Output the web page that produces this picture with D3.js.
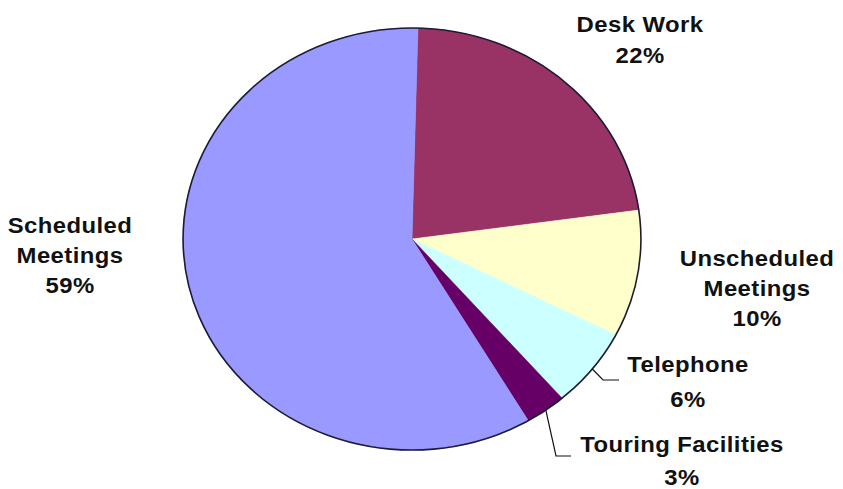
<!DOCTYPE html>
<html>
<head>
<meta charset="utf-8">
<script src="https://cdn.jsdelivr.net/npm/d3@7"></script>
<style>
  html, body { margin: 0; padding: 0; background: #fff; }
  text { font-family: "Liberation Sans", Arial, sans-serif; font-weight: bold; fill: #111; letter-spacing: 0.4px; }
</style>
</head>
<body>
<div id="chart"></div>
<script>
// slices, clockwise from 12 o'clock
const categories = ["Desk Work", "Unscheduled Meetings", "Telephone", "Touring Facilities", "Scheduled Meetings"];
const shares = [22.4, 9.7, 6.1, 2.9, 58.9];
const colors = ["#993366", "#ffffcc", "#ccffff", "#660066", "#9999ff"];
// label lines as shown
const labelLines = [["Desk Work"], ["Unscheduled", "Meetings"], ["Telephone"], ["Touring Facilities"], ["Scheduled", "Meetings"]];

(function(){
    const width = 843, height = 489;
    const cx = 412, cy = 239;
    const radius = 211;
    const stretch = 1.085;   // pie is drawn a bit wider than tall

    const svg = d3.select("#chart")
        .append('svg')
            .attr('width', width)
            .attr('height', height);

    const data = categories.map((c, i) => ({ name: c, value: shares[i], color: colors[i], lines: labelLines[i] }));

    const pie = d3.pie()
        .sort(null)
        .value(d => d.value)
        .startAngle(0.026)
        .endAngle(0.026 + 2 * Math.PI);

    const arcs = pie(data);
    const arc = d3.arc().innerRadius(0).outerRadius(radius);

    const g = svg.append('g')
        .attr('transform', `translate(${cx}, ${cy}) scale(${stretch}, 1)`);

    g.selectAll('path')
        .data(arcs)
        .enter()
        .append('path')
            .attr('d', arc)
            .attr('fill', d => d.data.color)
            .attr('stroke', d => d.data.color)
            .attr('stroke-width', 0.5);

    g.append('circle')
        .attr('r', radius)
        .attr('fill', 'none')
        .attr('stroke', '#1c1c38')
        .attr('stroke-width', 1.6)
        .attr('vector-effect', 'non-scaling-stroke');

    // label placement (page coordinates): centre x, first baseline, line step
    const labelPos = {
        "Desk Work": { x: 640, y: 32, step: 31, leader: null },
        "Unscheduled Meetings": { x: 757, y: 266, step: 30, leader: null },
        "Telephone": { x: 688, y: 372, step: 35, leader: { bend: [603, 380], end: [619, 380] } },
        "Touring Facilities": { x: 682, y: 452, step: 33, leader: { bend: [556, 456], end: [571, 456] } },
        "Scheduled Meetings": { x: 70, y: 233, step: 30, leader: null }
    };

    const edge = d3.arc().innerRadius(radius).outerRadius(radius);

    arcs.forEach(a => {
        const p = labelPos[a.data.name];
        const pct = Math.round(a.data.value) + '%';
        const lines = a.data.lines.concat([pct]);

        const t = svg.append('g')
            .attr('transform', `translate(${p.x}, 0)`);
        lines.forEach((ln, i) => {
            t.append('text')
                .attr('transform', `translate(0, ${p.y + i * p.step}) scale(${stretch}, 1)`)
                .attr('text-anchor', 'middle')
                .style('font-size', '22px')
                .text(ln);
        });

        if (p.leader) {
            const c = edge.centroid(a);
            const start = [cx + c[0] * stretch, cy + c[1]];
            svg.append('path')
                .attr('d', d3.line()([start, p.leader.bend, p.leader.end]))
                .attr('fill', 'none')
                .attr('stroke', '#111')
                .attr('stroke-width', 1.2);
        }
    });
}())
</script>
</body>
</html>
